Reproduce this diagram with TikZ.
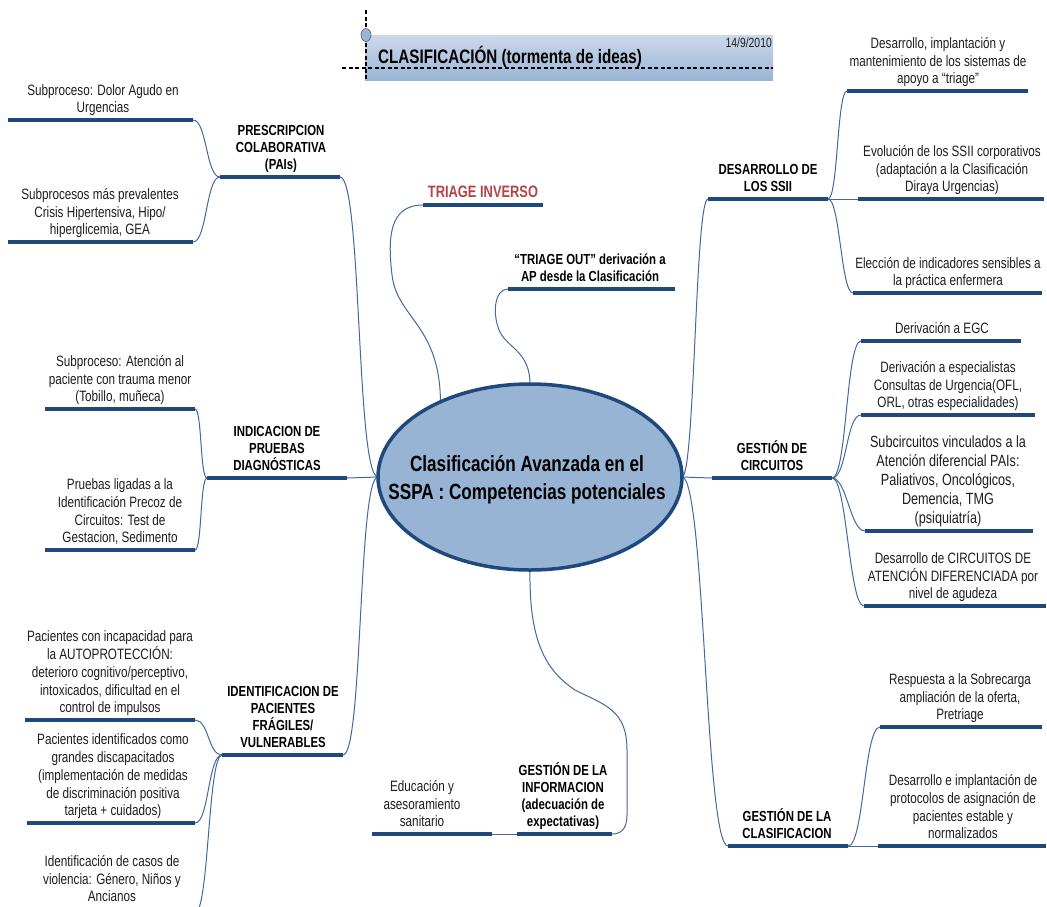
\documentclass[tikz,border=0pt]{standalone}
\usepackage{fontspec}
\usetikzlibrary{shapes.geometric}
\setmainfont{Liberation Sans}[FakeStretch=0.78]
\definecolor{ub}{HTML}{1F497D}
\definecolor{cn}{HTML}{44689E}
\definecolor{hubfill}{HTML}{98B4D4}
\definecolor{tbtop}{HTML}{CCD9EA}
\definecolor{tbbot}{HTML}{9AB4D5}
\definecolor{leafgray}{HTML}{1E1E1E}
\definecolor{inv}{HTML}{B4444A}
\begin{document}
\begin{tikzpicture}[x=1pt,y=-1pt,
  uline/.style={draw=ub,line width=4.3pt},
  conn/.style={draw=cn,line width=1pt},
  leaf/.style={align=center,anchor=south,inner sep=0pt,text depth=0pt,text=leafgray,font=\fontsize{15}{17.8}\selectfont},
  bigleaf/.style={leaf,font=\fontsize{16.2}{19.2}\selectfont},
  head/.style={align=center,anchor=south,inner sep=0pt,text depth=0pt,text=black,font=\bfseries\fontsize{14.6}{17.2}\selectfont},
]
\clip (0,0) rectangle (1047,906);
\fill[white] (0,0) rectangle (1047,906);

% ---------- title bar ----------
\shade[top color=tbtop,bottom color=tbbot] (365,35) rectangle (773,80);
\draw[black,line width=1.6pt,dash pattern=on 4pt off 2.5pt] (342,68) -- (773,68);
\draw[black,line width=1.6pt,dash pattern=on 4pt off 2.5pt] (366,10) -- (366,80);
\node[ellipse,draw=gray!70!black,fill=tbbot,minimum width=10pt,minimum height=13pt,inner sep=0pt,line width=0.6pt] (mark) at (366,35) {};
\node[anchor=base west,inner sep=0pt,font=\bfseries\fontsize{19.5}{21}\selectfont] (title) at (378,63) {CLASIFICACIÓN (tormenta de ideas)};
\node[anchor=base east,inner sep=0pt,font=\fontsize{13.3}{15}\selectfont,text=leafgray] (date) at (772,47) {14/9/2010};

% ---------- underline end points ----------
\coordinate (prescL) at (220,177); \coordinate (prescR) at (340,177);
\coordinate (laL) at (8,120);  \coordinate (laR) at (193,120);
\coordinate (lbL) at (8,242);  \coordinate (lbR) at (193,242);
\coordinate (indicL) at (207,478); \coordinate (indicR) at (347,478);
\coordinate (lcL) at (45,409); \coordinate (lcR) at (195,409);
\coordinate (ldL) at (45,550); \coordinate (ldR) at (195,550);
\coordinate (identL) at (222,755); \coordinate (identR) at (343,755);
\coordinate (leL) at (25,720); \coordinate (leR) at (195,720);
\coordinate (lfL) at (27,823); \coordinate (lfR) at (195,823);
\coordinate (lgR) at (195,913);
\coordinate (invL) at (423,205); \coordinate (invR) at (543,205);
\coordinate (outL) at (508,289); \coordinate (outR) at (675,289);
\coordinate (infoL) at (517,834); \coordinate (infoR) at (612,834);
\coordinate (eduL) at (372,834); \coordinate (eduR) at (492,834);
\coordinate (ssiiL) at (708,199); \coordinate (ssiiR) at (828,199);
\coordinate (raL) at (847,91); \coordinate (raR) at (1028,91);
\coordinate (rbL) at (858,199); \coordinate (rbR) at (1044,199);
\coordinate (rcL) at (853,293); \coordinate (rcR) at (1042,293);
\coordinate (circL) at (712,478); \coordinate (circR) at (832,478);
\coordinate (rdL) at (861,341); \coordinate (rdR) at (1021,341);
\coordinate (reL) at (861,415); \coordinate (reR) at (1035,415);
\coordinate (rfL) at (865,531); \coordinate (rfR) at (1033,531);
\coordinate (rgL) at (864,606); \coordinate (rgR) at (1046,606);
\coordinate (clasL) at (728,846); \coordinate (clasR) at (848,846);
\coordinate (rhL) at (880,727); \coordinate (rhR) at (1042,727);
\coordinate (riL) at (878,846); \coordinate (riR) at (1046,846);

% ---------- hub (shape only, drawn later on top) ----------
\path (530,477) node[ellipse,minimum width=304pt,minimum height=186pt,inner sep=0pt,outer sep=0pt] (hub) {};

% ---------- connectors ----------
\draw[conn] (laR) to[out=0,in=180,distance=14pt] (prescL);
\draw[conn] (lbR) to[out=0,in=180,distance=14pt] (prescL);
\draw[conn] (prescR) to[out=0,in=180,distance=22pt] (hub.west);
\draw[conn] (lcR) to[out=0,in=180,distance=7pt] (indicL);
\draw[conn] (ldR) to[out=0,in=180,distance=7pt] (indicL);
\draw[conn] (indicR) -- (hub.west);
\draw[conn] (leR) to[out=0,in=180,distance=14pt] (identL);
\draw[conn] (lfR) to[out=0,in=180,distance=14pt] (identL);
\draw[conn] (lgR) to[out=0,in=180,distance=14pt] (identL);
\draw[conn] (identR) to[out=0,in=180,distance=20pt] (hub.west);

\draw[conn] (invL) .. controls (388,205) and (388,240) .. (392,275)
                   .. controls (397,318) and (440,325) .. (hub.140);
\draw[conn] (outL) .. controls (494,289) and (492,315) .. (500,332)
                   .. controls (508,348) and (530,352) .. (hub.north);
\draw[conn] (hub.south) .. controls (529,640) and (545,670) .. (575,690)
                   .. controls (605,705) and (627,710) .. (627,750)
                   -- (627,815) .. controls (627,830) and (620,834) .. (infoR);
\draw[conn] (eduR) -- (infoL);

\draw[conn] (hub.east) to[out=0,in=180,distance=13pt] (ssiiL);
\draw[conn] (ssiiR) to[out=0,in=180,distance=10pt] (raL);
\draw[conn] (ssiiR) -- (rbL);
\draw[conn] (ssiiR) to[out=0,in=180,distance=12pt] (rcL);
\draw[conn] (hub.east) -- (circL);
\draw[conn] (circR) to[out=0,in=180,distance=15pt] (rdL);
\draw[conn] (circR) to[out=0,in=180,distance=15pt] (reL);
\draw[conn] (circR) to[out=0,in=180,distance=15pt] (rfL);
\draw[conn] (circR) to[out=0,in=180,distance=15pt] (rgL);
\draw[conn] (hub.east) to[out=0,in=180,distance=23pt] (clasL);
\draw[conn] (clasR) to[out=0,in=180,distance=16pt] (rhL);
\draw[conn] (clasR) -- (riL);

% ---------- underlines ----------
\foreach \n in {presc,la,lb,indic,lc,ld,ident,le,lf,inv,out,info,edu,ssii,ra,rb,rc,circ,rd,re,rf,rg,clas,rh,ri}
  \draw[uline] (\n L) -- (\n R);

% ---------- hub ----------
\draw[draw=ub,fill=hubfill,line width=3.5pt] (530,477) ellipse [x radius=152pt,y radius=93pt];
\node[align=center,anchor=south,inner sep=0pt,text depth=0pt,font=\bfseries\fontsize{22}{28}\selectfont] (hubtext) at (527,500)
  {Clasificación Avanzada en el\\SSPA : Competencias potenciales};

% ---------- texts: left ----------
\node[head] (presc) at (281,170) {PRESCRIPCION\\COLABORATIVA\\(PAIs)};
\node[leaf] (la) at (103,113) {Subproceso: Dolor Agudo en\\Urgencias};
\node[leaf] (lb) at (100,235) {Subprocesos más prevalentes\\Crisis Hipertensiva, Hipo/\\hiperglicemia, GEA};
\node[head] (indic) at (277,471) {INDICACION DE\\PRUEBAS\\DIAGNÓSTICAS};
\node[leaf] (lc) at (120,402) {Subproceso: Atención al\\paciente con trauma menor\\(Tobillo, muñeca)};
\node[leaf] (ld) at (120,543) {Pruebas ligadas a la\\Identificación Precoz de\\Circuitos: Test de\\Gestacion, Sedimento};
\node[head] (ident) at (283,748) {IDENTIFICACION DE\\PACIENTES\\FRÁGILES/\\VULNERABLES};
\node[leaf] (le) at (110,713) {Pacientes con incapacidad para\\la AUTOPROTECCIÓN:\\deterioro cognitivo/perceptivo,\\intoxicados, dificultad en el\\control de impulsos};
\node[leaf] (lf) at (113,816) {Pacientes identificados como\\grandes discapacitados\\(implementación de medidas\\de discriminación positiva\\tarjeta + cuidados)};
\node[leaf] (lg) at (112,902) {Identificación de casos de\\violencia: Género, Niños y\\Ancianos};

% ---------- texts: top / bottom centre ----------
\node[head,text=inv,font=\bfseries\fontsize{16.5}{19}\selectfont] (inv) at (483,198) {TRIAGE INVERSO};
\node[head] (out) at (590,282) {“TRIAGE OUT” derivación a\\AP desde la Clasificación};
\node[head] (info) at (563,827) {GESTIÓN DE LA\\INFORMACION\\(adecuación de\\expectativas)};
\node[leaf] (edu) at (422,827) {Educación y\\asesoramiento\\sanitario};

% ---------- texts: right ----------
\node[head] (ssii) at (768,192) {DESARROLLO DE\\LOS SSII};
\node[leaf] (ra) at (938,84) {Desarrollo, implantación y\\mantenimiento de los sistemas de\\apoyo a “triage”};
\node[leaf] (rb) at (952,192) {Evolución de los SSII corporativos\\(adaptación a la Clasificación\\Diraya Urgencias)};
\node[leaf] (rc) at (948,286) {Elección de indicadores sensibles a\\la práctica enfermera};
\node[head] (circ) at (772,471) {GESTIÓN DE\\CIRCUITOS};
\node[leaf] (rd) at (942,334) {Derivación a EGC};
\node[leaf] (re) at (948,408) {Derivación a especialistas\\Consultas de Urgencia(OFL,\\ORL, otras especialidades)};
\node[bigleaf] (rf) at (948,524) {Subcircuitos vinculados a la\\Atención diferencial PAIs:\\Paliativos, Oncológicos,\\Demencia, TMG\\(psiquiatría)};
\node[leaf] (rg) at (953,599) {Desarrollo de CIRCUITOS DE\\ATENCIÓN DIFERENCIADA por\\nivel de agudeza};
\node[head] (clas) at (787,839) {GESTIÓN DE LA\\CLASIFICACION};
\node[leaf] (rh) at (960,720) {Respuesta a la Sobrecarga\\ampliación de la oferta,\\Pretriage};
\node[leaf] (ri) at (963,839) {Desarrollo e implantación de\\protocolos de asignación de\\pacientes estable y\\normalizados};
\end{tikzpicture}
\end{document}
